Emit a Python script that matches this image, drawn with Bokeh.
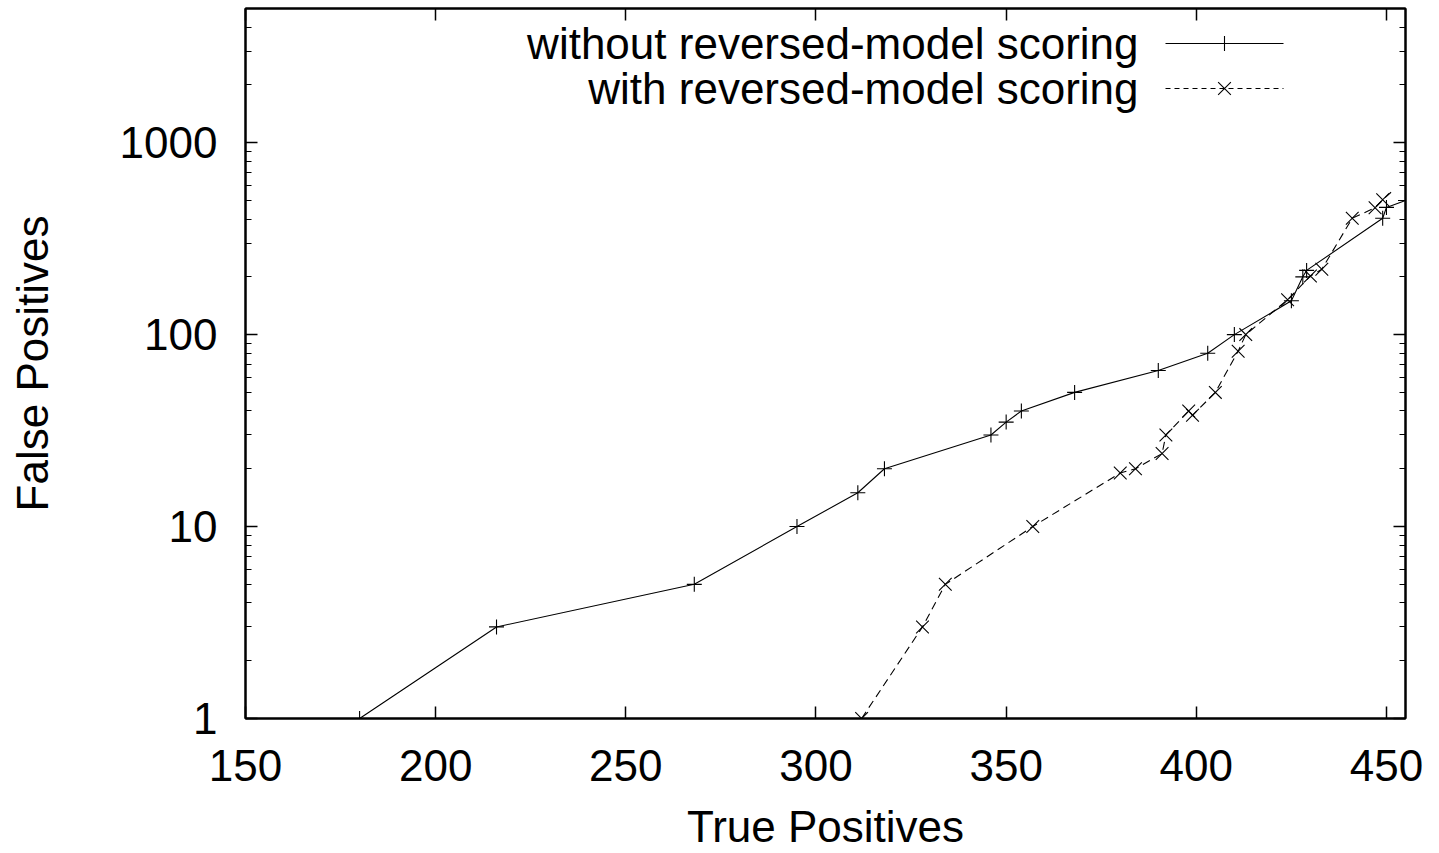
import math
from bokeh.plotting import figure
from bokeh.models import LinearAxis, LogAxis, FixedTicker, NumeralTickFormatter, Range1d, Label
from bokeh.embed import file_html
from bokeh.resources import INLINE

# ---------------- data ----------------
x_label = "True Positives"
y_label = "False Positives"
series_names = ["without reversed-model scoring", "with reversed-model scoring"]

without_tp = [180, 216, 268, 295, 311, 318, 346, 350, 354, 368, 390, 403, 410, 425, 428, 429, 449, 450, 455]
without_fp = [1, 3, 5, 10, 15, 20, 30, 35, 40, 50, 65, 80, 100, 150, 200, 216, 404, 460, 500]

with_tp = [312, 328, 334, 357, 380, 384, 391, 392, 398, 399, 405, 411, 413, 424, 430, 433, 441, 447, 449, 452]
with_fp = [1, 3, 5, 10, 19, 20, 24, 30, 40, 38, 50, 82, 100, 152, 202, 219, 404, 458, 504, 570]

x_ticks = [150, 200, 250, 300, 350, 400, 450]
y_ticks = [1, 10, 100, 1000]
y_minor = [m * d for d in (1, 10, 100, 1000) for m in range(2, 10) if m * d <= 5000]

X_MIN, X_MAX = 150, 455
Y_MIN, Y_MAX = 1, 5000

# ---------------- layout ----------------
FONT = "Liberation Sans"
FS = "44px"
FL, FT, FW, FH = 245, 8, 1160, 710
W, H = 1439, 853


def px_to_data(px, py):
    x = X_MIN + (px - FL) * (X_MAX - X_MIN) / FW
    ly = math.log10(Y_MIN) + (FT + FH - py) / FH * (math.log10(Y_MAX) - math.log10(Y_MIN))
    return x, 10 ** ly


p = figure(frame_width=FW, frame_height=FH,
           x_range=Range1d(X_MIN, X_MAX), y_range=Range1d(Y_MIN, Y_MAX),
           y_axis_type="log", output_backend="svg", toolbar_location=None,
           min_border_left=FL, min_border_right=W - FL - FW,
           min_border_top=FT, min_border_bottom=H - FT - FH)
p.background_fill_color = "white"
p.border_fill_color = "white"
p.outline_line_color = "black"
p.outline_line_width = 2
p.xgrid.visible = False
p.ygrid.visible = False


def style_axis(ax):
    ax.axis_line_color = "black"
    ax.axis_line_width = 2
    ax.major_tick_in = 12
    ax.major_tick_out = 0
    ax.major_tick_line_width = 1.5
    ax.major_tick_line_color = "black"
    ax.minor_tick_line_color = "black"
    ax.minor_tick_line_width = 1.2
    ax.major_label_text_font = FONT
    ax.major_label_text_color = "black"
    ax.major_label_text_font_size = FS
    ax.axis_label_text_font = FONT
    ax.axis_label_text_font_size = FS
    ax.axis_label_text_font_style = "normal"
    ax.axis_label_text_color = "black"


xa = p.xaxis[0]
xa.ticker = FixedTicker(ticks=x_ticks)
style_axis(xa)
xa.minor_tick_in = 0
xa.minor_tick_out = 0
xa.major_label_standoff = 31
xa.axis_label = x_label
xa.axis_label_standoff = 18

ya = p.yaxis[0]
ya.ticker = FixedTicker(ticks=y_ticks, minor_ticks=y_minor)
ya.formatter = NumeralTickFormatter(format="0")
style_axis(ya)
ya.minor_tick_in = 6
ya.minor_tick_out = 0
ya.major_label_standoff = 28
ya.axis_label = y_label
ya.axis_label_standoff = 60

# mirrored tick marks on top and right (no labels)
top = LinearAxis(ticker=FixedTicker(ticks=x_ticks))
style_axis(top)
top.minor_tick_in = 0
top.minor_tick_out = 0
top.major_label_standoff = 0
top.major_label_overrides = {t: "" for t in x_ticks}
p.add_layout(top, "above")

right = LogAxis(ticker=FixedTicker(ticks=y_ticks, minor_ticks=y_minor))
style_axis(right)
right.minor_tick_in = 6
right.minor_tick_out = 0
right.major_label_standoff = 0
right.major_label_overrides = {t: "" for t in y_ticks}
p.add_layout(right, "right")

# ---------------- series ----------------
p.line(without_tp, without_fp, line_color="black", line_width=1.1)
p.scatter(without_tp, without_fp, marker="cross", size=15, line_color="black", line_width=1.1)

p.line(with_tp, with_fp, line_color="black", line_width=1.1, line_dash="8 5")
p.scatter(with_tp[:-1], with_fp[:-1], marker="x", size=18, line_color="black", line_width=1.1)

# ---------------- legend (gnuplot style: text left, sample right) ----------------
rows_py = [43, 88]
text_right_px = 1138
sample_px = (1165, 1283)
for i, (name, py) in enumerate(zip(series_names, rows_py)):
    tx, ty = px_to_data(text_right_px, py)
    p.add_layout(Label(x=tx, y=ty, text=name, text_align="right", text_baseline="middle",
                       text_font=FONT, text_font_size=FS, text_color="black"))
    x0, yy = px_to_data(sample_px[0], py)
    x1, _ = px_to_data(sample_px[1], py)
    xm = (x0 + x1) / 2
    if i == 0:
        p.line([x0, x1], [yy, yy], line_color="black", line_width=1.1)
        p.scatter([xm], [yy], marker="cross", size=15, line_color="black", line_width=1.1)
    else:
        p.line([x0, x1], [yy, yy], line_color="black", line_width=1.1, line_dash="5 4")
        p.scatter([xm], [yy], marker="x", size=18, line_color="black", line_width=1.1)

open("out.html", "w").write(file_html(p, INLINE))
